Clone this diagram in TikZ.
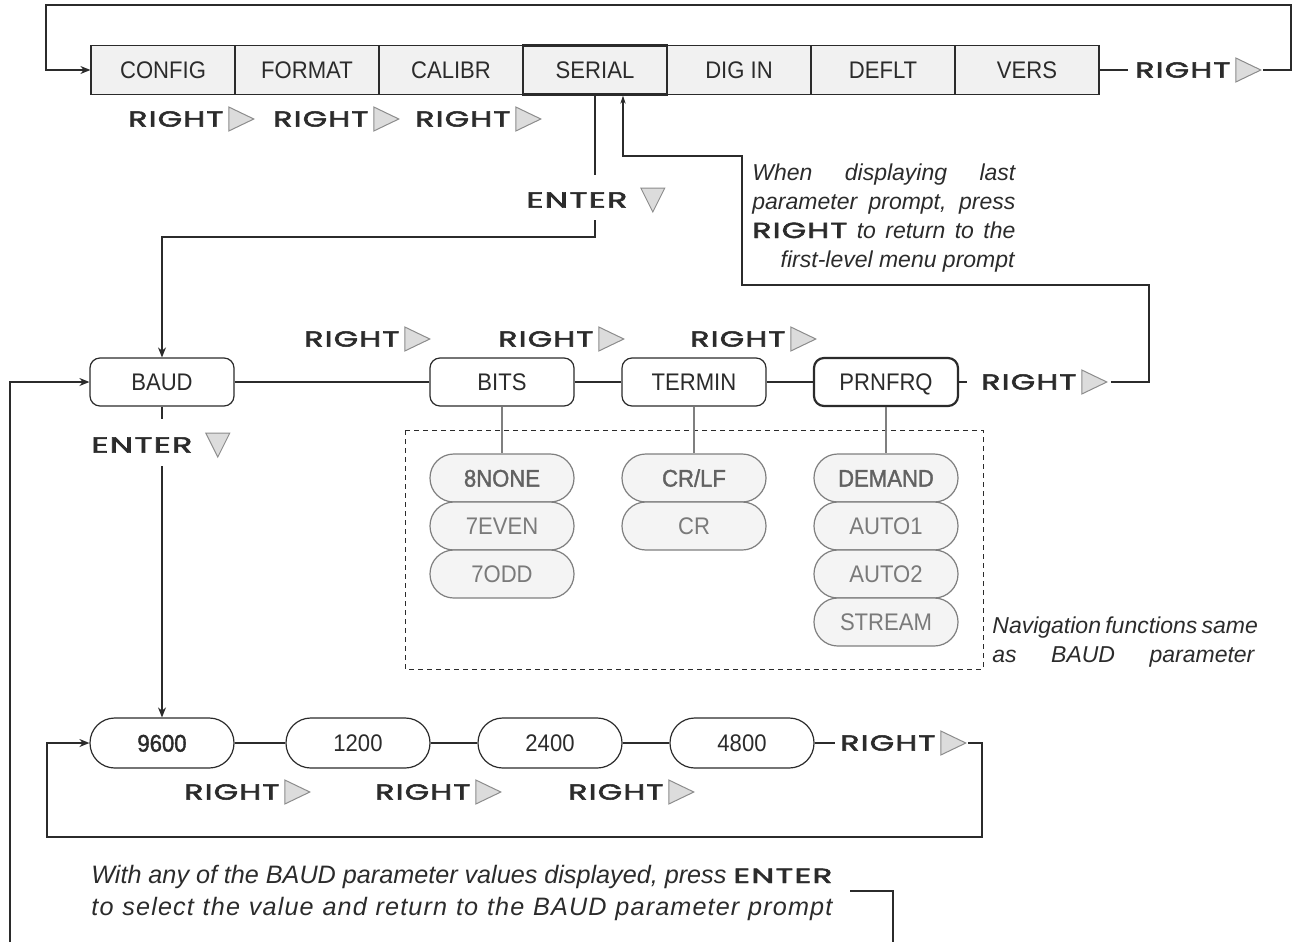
\documentclass[tikz,border=0pt]{standalone}
\usepackage{fontspec}
\usepackage{graphicx}
\usetikzlibrary{arrows.meta}
\setmainfont{Liberation Sans}
\newfontfamily\labf[FakeStretch=0.92]{Liberation Sans}
\newfontfamily\labbf[FakeStretch=0.92,FakeBold=1.5]{Liberation Sans}
\newfontfamily\itf{Liberation Sans}
\newfontfamily\itsp[LetterSpace=4.5]{Liberation Sans}
\newfontfamily\keyf[LetterSpace=4,FakeBold=2.2]{Poppins}
\definecolor{ln}{HTML}{2B2B2B}
\definecolor{boxfill}{HTML}{F1F1F1}
\definecolor{optfill}{HTML}{F4F4F4}
\definecolor{optdraw}{HTML}{7F7F7F}
\definecolor{opttext}{HTML}{7A7A7A}
\definecolor{optbold}{HTML}{626262}
\definecolor{trifill}{HTML}{DCDCDC}
\definecolor{tridraw}{HTML}{8C8C8C}
\newcommand\keyRIGHT{\resizebox{47.5pt}{7.7pt}{\keyf\mdseries\upshape RIGHT}}
\newcommand\keyENTER{\resizebox{50.5pt}{7.7pt}{\keyf\mdseries\upshape ENTER}}
\newcommand\keyENTERb{\resizebox{49.5pt}{7.2pt}{\keyf\mdseries\upshape ENTER}}
\newcommand\rlab[3]{%
  \node[keylab,anchor=west] (#1) at (#2,#3) {\keyRIGHT};
  \pic at ([xshift=2.5pt]#1.east) {rtri};
  \coordinate (#1-tip) at ([xshift=16pt]#1.east);}
\newcommand\elab[3]{%
  \node[keylab,anchor=west] (#1) at (#2,#3) {\keyENTER};
  \pic at ([xshift=12.5pt]#1.east) {dtri};}
\tikzset{
  conn/.style={draw=ln,line width=0.75pt},
  thinconn/.style={draw=ln,line width=0.6pt},
  arr/.style={-{Stealth[length=5pt,width=4pt]}},
  smallarr/.style={-{Stealth[length=4pt,width=2.6pt]}},
  keylab/.style={inner sep=0pt,text=ln},
  lbl/.style={font={\labf\fontsize{12}{14}\selectfont},text height=8.6pt,text depth=0pt,inner sep=0pt},
  topbox/.style={lbl,draw=ln,fill=boxfill,line width=0.6pt,minimum width=72pt,minimum height=24.5pt,text=ln},
  pbox/.style={lbl,draw=ln,fill=white,rounded corners=5pt,line width=0.6pt,minimum width=72pt,minimum height=24pt,text=ln},
  opt/.style={lbl,draw=optdraw,fill=optfill,rounded corners=11.9pt,line width=0.6pt,minimum width=72pt,minimum height=24pt,text=opttext},
  optb/.style={opt,font={\labbf\fontsize{12}{14}\selectfont},text=optbold},
  bpill/.style={lbl,draw=ln,fill=white,rounded corners=12.4pt,line width=0.6pt,minimum width=72pt,minimum height=25pt,text=ln},
  optline/.style={draw=optdraw,line width=0.6pt},
  note/.style={inner sep=0pt,text=ln,font={\itf\itshape\fontsize{11.5}{14}\selectfont}},
  bignote/.style={inner sep=0pt,text=ln,font={\itf\itshape\fontsize{12.6}{15}\selectfont}},
  rtri/.pic={\draw[fill=trifill,draw=tridraw,line width=0.5pt] (0,-12) -- (25,0) -- (0,12) -- cycle;},
  dtri/.pic={\draw[fill=trifill,draw=tridraw,line width=0.5pt] (-12,-12) -- (12,-12) -- (0,12) -- cycle;}
}
\begin{document}
\begin{tikzpicture}[x=0.5pt,y=-0.5pt]
\useasboundingbox (0,0) rectangle (1294,942);
% ---------- first level
\node[topbox] (config) at (163,70) {CONFIG};
\node[topbox] (format) at (307,70) {FORMAT};
\node[topbox] (calibr) at (451,70) {CALIBR};
\node[topbox] (digin) at (739,70) {DIG IN};
\node[topbox] (deflt) at (883,70) {DEFLT};
\node[topbox] (vers) at (1027,70) {VERS};
\node[topbox,line width=1.1pt] (serial) at (595,70) {SERIAL};
\rlab{rt1}{128}{119}
\rlab{rt2}{273}{119}
\rlab{rt3}{415}{119}
\rlab{rtv}{1135}{70}
\coordinate (tr) at (1291,70);
\coordinate (tl) at (46,5);
\draw[conn] (vers.east) -- ([xshift=-3.5pt]rtv.west);
\draw[conn,arr] (rtv-tip) -- (tr) |- (tl) |- (config.west);
% ---------- second level
\node[pbox] (baud) at (162,382) {BAUD};
\node[pbox] (bits) at (502,382) {BITS};
\node[pbox] (termin) at (694,382) {TERMIN};
\node[pbox,line width=1.1pt] (prnfrq) at (886,382) {PRNFRQ};
\draw[conn] (baud) -- (bits);
\draw[conn] (bits) -- (termin);
\draw[conn] (termin) -- (prnfrq);
\rlab{rs1}{304}{339}
\rlab{rs2}{498}{339}
\rlab{rs3}{690}{339}
\rlab{rtp}{981}{382}
\draw[conn] (prnfrq.east) -- ([xshift=-7pt]rtp.west);
% enter from SERIAL
\elab{ent1}{526}{200}
\coordinate (e1a) at (595,175);
\coordinate (e1b) at (595,220);
\coordinate (e1c) at (595,237);
\draw[conn] (serial.south) -- (e1a);
\draw[conn,arr] (e1b) -- (e1c) -| (baud.north);
% return path to SERIAL
\coordinate (r1) at (1149,382);
\coordinate (r2) at (1149,285);
\coordinate (r3) at (742,285);
\coordinate (r4) at (742,156);
\coordinate (r5) at (623,156);
\draw[thinconn,smallarr] ([xshift=1pt]rtp-tip) -- (r1) -- (r2) -- (r3) -- (r4) -- (r5) -- (serial.south -| r5);
\node[note,anchor=base west] (w1) at (752,180) {\makebox[131.5pt][s]{When displaying last}};
\node[note,anchor=base west] (w2) at (752,209) {\makebox[131.5pt][s]{parameter prompt, press}};
\node[note,anchor=base west] (w3) at (752,238) {\makebox[131.5pt][s]{\keyRIGHT\ to return to the}};
\node[note,anchor=base east] (w4) at (1015,267) {first-level menu prompt};
% options
\draw[dash pattern=on 2.5pt off 2pt,draw=ln,line width=0.5pt] (405,430) rectangle (983,669);
\node[optb] (o8n) at (502,478) {8NONE};
\node[opt] (o7e) at (502,526) {7EVEN};
\node[opt] (o7o) at (502,574) {7ODD};
\node[optb] (ocrlf) at (694,478) {CR/LF};
\node[opt] (ocr) at (694,526) {CR};
\node[optb] (odem) at (886,478) {DEMAND};
\node[opt] (oa1) at (886,526) {AUTO1};
\node[opt] (oa2) at (886,574) {AUTO2};
\node[opt] (ostr) at (886,622) {STREAM};
\draw[optline] (bits) -- (o8n);
\draw[optline] (termin) -- (ocrlf);
\draw[optline] (prnfrq) -- (odem);
\node[note,anchor=base west] (nav1) at (992,633) {\makebox[131pt][s]{Navigation functions same}};
\node[note,anchor=base west] (nav2) at (992,662) {\makebox[131pt][s]{as BAUD parameter}};
% enter from BAUD
\elab{ent2}{91}{445}
\coordinate (e2a) at (162,419);
\coordinate (e2b) at (162,466);
\draw[conn] (baud.south) -- (e2a);
% ---------- third level
\node[bpill,font={\labbf\fontsize{12}{14}\selectfont}] (p9600) at (162,743) {9600};
\node[bpill] (p1200) at (358,743) {1200};
\node[bpill] (p2400) at (550,743) {2400};
\node[bpill] (p4800) at (742,743) {4800};
\draw[conn,arr] (e2b) -- (p9600.north);
\draw[conn] (p9600) -- (p1200);
\draw[conn] (p1200) -- (p2400);
\draw[conn] (p2400) -- (p4800);
\rlab{rb4}{840}{743}
\draw[conn] (p4800.east) -- ([xshift=-2.5pt]rb4.west);
\coordinate (b1) at (982,743);
\coordinate (b2) at (47,837);
\draw[conn,arr] (rb4-tip) -- (b1) |- (b2) |- (p9600.west);
\rlab{rl1}{184}{792}
\rlab{rl2}{375}{792}
\rlab{rl3}{568}{792}
% left return loop
\coordinate (lb) at (10,942);
\coordinate (lt) at (10,382);
\draw[conn,arr] (lb) -- (lt) -- (baud.west);
% bottom note
\node[bignote,anchor=base west] (bn1) at (91,883) {\makebox[370.5pt][s]{With any of the BAUD parameter values displayed, press \keyENTERb}};
\node[bignote,anchor=base west] (bn2) at (91,915) {\makebox[370.5pt][s]{\itsp\itshape to select the value and return to the BAUD parameter prompt}};
\coordinate (s1) at (850,891);
\coordinate (s2) at (893,891);
\coordinate (s3) at (893,942);
\draw[conn] (s1) -- (s2) -- (s3);
\end{tikzpicture}
\end{document}
